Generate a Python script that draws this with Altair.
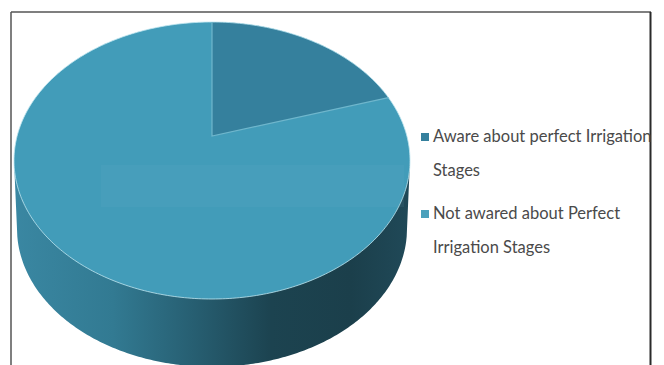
import numpy as np
import pandas as pd
import altair as alt

# Survey shares, starting at twelve o'clock and running clockwise
categories = ["Aware about perfect Irrigation Stages", "Not awared about Perfect Irrigation Stages"]
shares = [17.5, 82.5]
legend_lines = [["Aware about perfect Irrigation", "Stages"],
                ["Not awared about Perfect", "Irrigation Stages"]]

TOP = "#429cb9"
WEDGE = "#35809d"
RIM = "#bfe6f0"

W, H = 664, 365
# Pie coordinates: the top face spans -1..1 on both axes
X_UNIT, X_ZERO = 198.0, 212.0
Y_UNIT, Y_ZERO = 138.5, 160.5
x_scale = alt.Scale(domain=[-X_ZERO / X_UNIT, (W - X_ZERO) / X_UNIT], nice=False, zero=False)
y_scale = alt.Scale(domain=[(Y_ZERO - H) / Y_UNIT, Y_ZERO / Y_UNIT], nice=False, zero=False)
X = alt.X("x:Q", scale=x_scale, axis=None)
Y = alt.Y("y:Q", scale=y_scale, axis=None)

DEPTH = 0.49       # drop of the lower rim below the top face
BOTTOM_RX = 0.985  # the lower rim is a touch narrower through perspective
APEX_Y = 0.177     # the slices meet above the ellipse centre

# Top face
xs = np.sin(np.linspace(-np.pi / 2, np.pi / 2, 241))
top_df = pd.DataFrame({"x": xs, "y": np.sqrt(1 - xs**2), "y2": -np.sqrt(1 - xs**2)})

# Side wall: everything below the centre line down to the lower rim
low = np.where(
    np.abs(xs) < BOTTOM_RX,
    -DEPTH - np.sqrt(np.clip(1 - (xs / BOTTOM_RX) ** 2, 0, 1)),
    -DEPTH * (1 - np.abs(xs)) / (1 - BOTTOM_RX),
)
side_df = pd.DataFrame({"x": xs, "y": np.zeros_like(xs), "y2": low})

# Smaller slice, bounded by the rim above and the straight cut below
end_angle = 2 * np.pi * shares[0] / 100
wx = np.sin(np.linspace(0, end_angle, 80))
wy = np.cos(np.linspace(0, end_angle, 80))
edge_x, edge_y = np.sin(end_angle), np.cos(end_angle)
cut_y = APEX_Y + (edge_y - APEX_Y) * wx / edge_x
wedge_df = pd.DataFrame({"x": wx, "y": wy, "y2": cut_y})

rim_t = np.linspace(0, 2 * np.pi, 361)
rim_df = pd.DataFrame({"x": np.sin(rim_t), "y": np.cos(rim_t), "o": np.arange(361)})
cuts_df = pd.DataFrame({"x": [0, 0, edge_x], "y": [1, APEX_Y, edge_y], "o": [0, 1, 2]})

side = alt.Chart(side_df).mark_area(
    color=alt.Gradient(
        gradient="linear", x1=0, x2=1, y1=0, y2=0,
        stops=[
            alt.GradientStop(offset=0.0, color="#3a87a2"),
            alt.GradientStop(offset=0.25, color="#327a92"),
            alt.GradientStop(offset=0.45, color="#275f72"),
            alt.GradientStop(offset=0.65, color="#1c4350"),
            alt.GradientStop(offset=0.85, color="#1b3f4b"),
            alt.GradientStop(offset=1.0, color="#204958"),
        ],
    )
).encode(x=X, y=Y, y2="y2:Q")

top = alt.Chart(top_df).mark_area(color=TOP).encode(x=X, y=Y, y2="y2:Q")
wedge = alt.Chart(wedge_df).mark_area(color=WEDGE).encode(x=X, y=Y, y2="y2:Q")
rim = alt.Chart(rim_df).mark_line(color=RIM, strokeWidth=1, opacity=0.8).encode(x=X, y=Y, order="o:Q")
cuts = alt.Chart(cuts_df).mark_line(color="#6fb6cc", strokeWidth=1.2).encode(x=X, y=Y, order="o:Q")

# Pale text box left behind on the pie face
ghost = alt.Chart(pd.DataFrame({"x": [0]})).mark_rect(color="#7cc0d4", opacity=0.09).encode(
    x=alt.value(101), x2=alt.value(404), y=alt.value(165), y2=alt.value(207)
)

# Frame around the figure
frame = alt.layer(
    alt.Chart(pd.DataFrame({"x": [0]})).mark_rule(color="#555555", strokeWidth=1.5).encode(
        x=alt.value(11), x2=alt.value(651), y=alt.value(12)),
    alt.Chart(pd.DataFrame({"x": [0]})).mark_rule(color="#555555", strokeWidth=1.5).encode(
        x=alt.value(11), y=alt.value(12), y2=alt.value(365)),
    alt.Chart(pd.DataFrame({"x": [0]})).mark_rule(color="#2a2a2a", strokeWidth=2).encode(
        x=alt.value(650.5), y=alt.value(12), y2=alt.value(365)),
)

# Legend keys and their two-line labels
legend_layers = []
for name, lines, key_color, key_y in zip(categories, legend_lines, [WEDGE, "#4aa0bb"], [137, 214]):
    legend_layers.append(
        alt.Chart(pd.DataFrame({"name": [name]})).mark_square(color=key_color, size=64, opacity=1).encode(
            x=alt.value(425), y=alt.value(key_y))
    )
    legend_layers.append(
        alt.Chart(pd.DataFrame({"label": [lines]})).mark_text(
            align="left", baseline="middle", font="Lato", fontSize=16.5,
            lineHeight=34, color="#4a4a4a",
        ).encode(x=alt.value(433), y=alt.value(key_y), text="label:N")
    )

chart = alt.layer(side, top, wedge, rim, cuts, ghost, frame, *legend_layers).properties(
    width=W, height=H, padding=0, background="white",
    autosize=alt.AutoSizeParams(type="none"),
).configure_view(stroke=None)

chart.save("out.html", embed_options={"renderer": "svg", "actions": False})
